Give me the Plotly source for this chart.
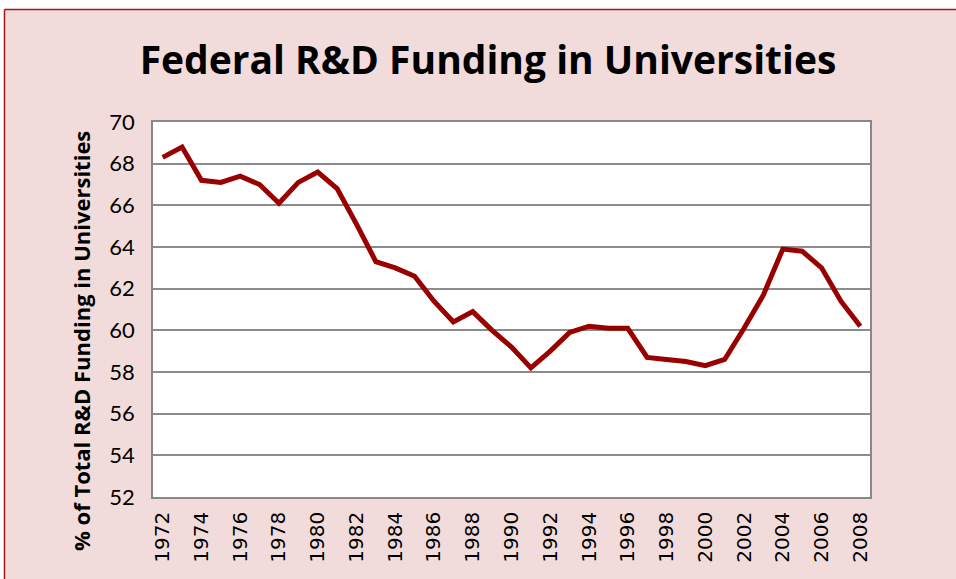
import plotly.graph_objects as go

# Share of federal R&D funding going to universities, by year
years = list(range(1972, 2009))
share = [68.3, 68.8, 67.2, 67.1, 67.4, 67.0, 66.1, 67.1, 67.6, 66.8,
         65.1, 63.3, 63.0, 62.6, 61.4, 60.4, 60.9, 60.0, 59.2, 58.2,
         59.0, 59.9, 60.2, 60.1, 60.1, 58.7, 58.6, 58.5, 58.3, 58.6,
         60.1, 61.7, 63.9, 63.8, 63.0, 61.4, 60.2]

y_ticks = list(range(52, 71, 2))
x_ticks = list(range(1972, 2009, 2))

W, H = 956, 579
L, R, T, B = 153, 86, 122, 82

fig = go.Figure(go.Scatter(
    x=years, y=share, mode="lines",
    line=dict(color="#990000", width=5),
    hoverinfo="x+y",
))

pink = "#F2DCDB"

fig.update_layout(
    width=W, height=H,
    margin=dict(l=L, r=R, t=T, b=B),
    paper_bgcolor=pink,
    plot_bgcolor="white",
    showlegend=False,
    title=dict(
        text="<b>Federal R&D Funding in Universities</b>",
        x=488 / W, xanchor="center",
        y=1 - 60 / H, yanchor="middle",
        font=dict(family="Open Sans", size=39, color="black"),
    ),
)

fig.update_xaxes(
    range=[1971.5, 2008.5],
    tickvals=x_ticks,
    ticktext=[str(v) for v in x_ticks],
    tickangle=-90,
    tickfont=dict(family="DejaVu Sans", size=20, color="black"),
    ticks="outside", ticklen=5, tickcolor="rgba(0,0,0,0)",
    showgrid=False, zeroline=False,
    showline=True, linecolor="#888888", linewidth=1.5, mirror=True,
)

fig.update_yaxes(
    range=[52, 70],
    tickvals=y_ticks,
    tickfont=dict(family="Lato", size=22, color="black"),
    ticks="outside", ticklen=12, tickcolor="rgba(0,0,0,0)",
    showgrid=True, gridcolor="#8c8c8c", gridwidth=1.5,
    zeroline=False,
    showline=True, linecolor="#888888", linewidth=1.5, mirror=True,
)

# y-axis title placed as annotation
fig.add_annotation(
    text="<b>% of Total R&D Funding in Universities</b>",
    xref="paper", yref="paper",
    x=(81 - L) / (W - L - R), y=(H - B - 341) / (H - T - B),
    xanchor="center", yanchor="middle",
    textangle=-90, showarrow=False,
    font=dict(family="Open Sans", size=22, color="black"),
)

# white strip around the cropped chart frame and its dark red border
pw, ph = W - L - R, H - T - B
def px(x):
    return (x - L) / pw
def py(y):
    return (H - B - y) / ph

fig.add_shape(type="rect", xref="paper", yref="paper",
              x0=px(-2), x1=px(W + 2), y0=py(9), y1=py(-2),
              fillcolor="white", line_width=0, layer="above")
fig.add_shape(type="rect", xref="paper", yref="paper",
              x0=px(-2), x1=px(4), y0=py(H + 2), y1=py(-2),
              fillcolor="white", line_width=0, layer="above")
fig.add_shape(type="line", xref="paper", yref="paper",
              x0=px(4.5), x1=px(W + 2), y0=py(9.5), y1=py(9.5),
              line=dict(color="#A31515", width=1.5), layer="above")
fig.add_shape(type="line", xref="paper", yref="paper",
              x0=px(4.5), x1=px(4.5), y0=py(9.5), y1=py(H + 2),
              line=dict(color="#A31515", width=1.5), layer="above")

# drop the default page margin so the figure fills the window exactly
fig.write_html("out.html",
               config={"displayModeBar": False},
               post_script="document.body.style.margin='0px';document.body.style.overflow='hidden';")
